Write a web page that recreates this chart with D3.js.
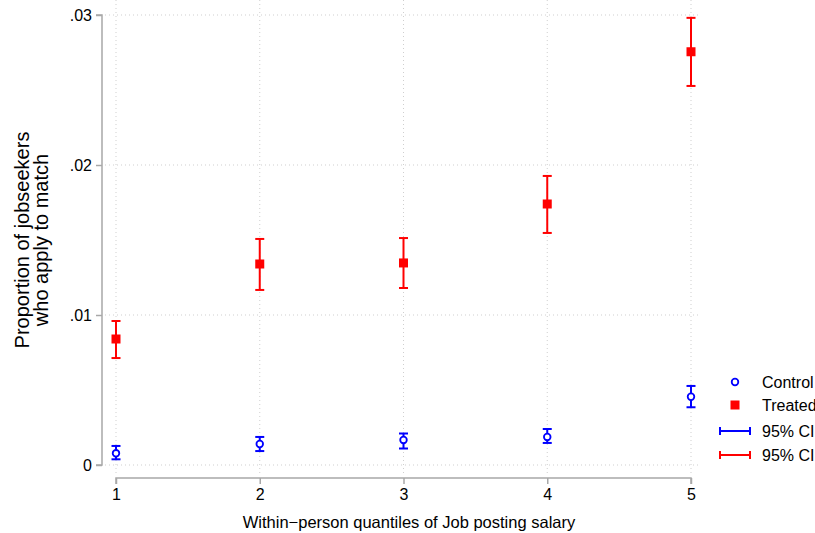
<!DOCTYPE html>
<html><head><meta charset="utf-8">
<script src="https://cdn.jsdelivr.net/npm/d3@7"></script>
<style>body{margin:0;background:#fff}svg{display:block;font-family:"Liberation Sans",Arial,sans-serif}</style>
</head><body><svg id="c" width="815" height="533"></svg>
<script>
const quantiles = [1, 2, 3, 4, 5];
const treated = [0.0084, 0.0134, 0.01347, 0.0174, 0.02755];
const treatedLo = [0.00713, 0.01167, 0.0118, 0.01547, 0.02527];
const treatedHi = [0.0096, 0.01507, 0.01513, 0.01927, 0.02981];
const control = [0.00078, 0.0014, 0.00167, 0.00187, 0.00455];
const controlLo = [0.00038, 0.00093, 0.0011, 0.00147, 0.00385];
const controlHi = [0.00127, 0.00187, 0.0021, 0.0024, 0.00527];
const yTicks = [0, 0.01, 0.02, 0.03];
const yTickLabels = ["0", ".01", ".02", ".03"];
const legendLabels = ["Control", "Treated", "95% CI", "95% CI"];

const svg = d3.select("#c");
const x = d3.scaleLinear().domain([1, 5]).range([116, 691]);
const y = d3.scaleLinear().domain([0, 0.03]).range([465, 15]);
const blue = "#0000ff", red = "#ff0000", axisCol = "#a8a8a8";

// grid
const grid = svg.append("g");
grid.selectAll("line.h").data(yTicks).join("line")
  .attr("x1", 105).attr("x2", 701).attr("y1", d => y(d)).attr("y2", d => y(d))
  .attr("stroke", "#cfcfcf").attr("stroke-width", 1).attr("stroke-dasharray", "1,3");
grid.selectAll("line.v").data(quantiles).join("line")
  .attr("x1", d => x(d)).attr("x2", d => x(d)).attr("y1", 0).attr("y2", 475)
  .attr("stroke", "#cfcfcf").attr("stroke-width", 1).attr("stroke-dasharray", "1,3");

// axes
const yAxis = svg.append("g").attr("transform", "translate(102,0)")
  .call(d3.axisLeft(y).tickValues(yTicks).tickFormat((d, i) => yTickLabels[i]).tickSize(6).tickPadding(4));
const xAxis = svg.append("g").attr("transform", "translate(0,478)")
  .call(d3.axisBottom(x).tickValues(quantiles).tickFormat(d3.format("d")).tickSize(6).tickPadding(5));
[yAxis, xAxis].forEach(a => {
  a.select(".domain").attr("stroke", axisCol).attr("stroke-width", 1.5);
  a.selectAll(".tick line").attr("stroke", axisCol).attr("stroke-width", 1.5);
  a.selectAll(".tick text").attr("fill", "#000").style("font-size", "16px").style("font-family", '"Liberation Sans",Arial,sans-serif');
});
yAxis.select(".domain").attr("d", `M-6,${y(0.03)}H0V${y(0)}H-6`);
xAxis.select(".domain").attr("d", `M${x(1)},6V0H${x(5)}V6`);

// error bars
function bars(lo, hi, col) {
  const g = svg.append("g").attr("stroke", col).attr("stroke-width", 2);
  quantiles.forEach((q, i) => {
    g.append("line").attr("x1", x(q)).attr("x2", x(q)).attr("y1", y(lo[i])).attr("y2", y(hi[i]));
    g.append("line").attr("x1", x(q) - 4.5).attr("x2", x(q) + 4.5).attr("y1", y(lo[i])).attr("y2", y(lo[i]));
    g.append("line").attr("x1", x(q) - 4.5).attr("x2", x(q) + 4.5).attr("y1", y(hi[i])).attr("y2", y(hi[i]));
  });
}
bars(treatedLo, treatedHi, red);
bars(controlLo, controlHi, blue);

svg.append("g").selectAll("rect").data(treated).join("rect")
  .attr("x", (d, i) => x(quantiles[i]) - 4.5).attr("y", d => y(d) - 4.5)
  .attr("width", 9).attr("height", 9).attr("fill", red);
svg.append("g").selectAll("circle").data(control).join("circle")
  .attr("cx", (d, i) => x(quantiles[i])).attr("cy", d => y(d)).attr("r", 3.3)
  .attr("fill", "#fff").attr("stroke", blue).attr("stroke-width", 1.8);

// axis titles
svg.append("text").attr("transform", "translate(29,240) rotate(-90)").attr("text-anchor", "middle")
  .style("font-size", "20px").text("Proportion of jobseekers");
svg.append("text").attr("transform", "translate(48,240) rotate(-90)").attr("text-anchor", "middle")
  .style("font-size", "20px").text("who apply to match");
svg.append("text").attr("x", 409).attr("y", 528).attr("text-anchor", "middle")
  .style("font-size", "16.5px").text("Within\u2212person quantiles of Job posting salary");

// legend
const lg = svg.append("g");
const ly = [382, 405, 431, 455];
lg.append("circle").attr("cx", 735).attr("cy", ly[0]).attr("r", 3.3).attr("fill", "#fff").attr("stroke", blue).attr("stroke-width", 1.8);
lg.append("rect").attr("x", 730.5).attr("y", ly[1] - 4.5).attr("width", 9).attr("height", 9).attr("fill", red);
[[ly[2], blue], [ly[3], red]].forEach(([yy, col]) => {
  const g = lg.append("g").attr("stroke", col).attr("stroke-width", 2);
  g.append("line").attr("x1", 720).attr("x2", 750).attr("y1", yy).attr("y2", yy);
  g.append("line").attr("x1", 720).attr("x2", 720).attr("y1", yy - 4).attr("y2", yy + 4);
  g.append("line").attr("x1", 750).attr("x2", 750).attr("y1", yy - 4).attr("y2", yy + 4);
});
lg.selectAll("text").data(legendLabels).join("text")
  .attr("x", 762).attr("y", (d, i) => ly[i] + 5.5).style("font-size", "16px").text(d => d);
</script></body></html>
